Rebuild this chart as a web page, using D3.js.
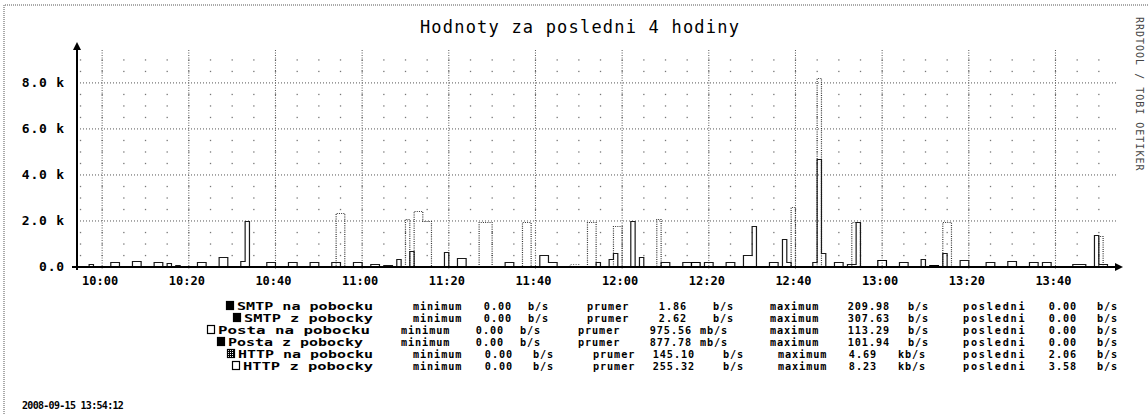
<!DOCTYPE html>
<html>
<head>
<meta charset="utf-8">
<script src="https://cdn.jsdelivr.net/npm/d3@7"></script>
<style>
  body { margin: 0; background: #fff; }
  svg { display: block; }
  text { font-family: "DejaVu Sans Mono", monospace; fill: #000; }
</style>
</head>
<body>
<div id="chart"></div>
<script>
/**
 * DATA
 * */
const title = "Hodnoty za posledni 4 hodiny";
const timeStart = "2008-09-15 09:54:12";
const timeEnd = "2008-09-15 13:54:12";
const stamp = "2008-09-15 13:54:12";
const watermark = "RRDTOOL / TOBI OETIKER";

const xTickTimes = ["10:00", "10:20", "10:40", "11:00", "11:20", "11:40",
  "12:00", "12:20", "12:40", "13:00", "13:20", "13:40"];
const yTickValues = [0, 2000, 4000, 6000, 8000];
const yTickLabels = ["0.0", "2.0 k", "4.0 k", "6.0 k", "8.0 k"];

// traffic pulses: [start HH:MM, minutes, b/s], zero elsewhere
const smtpNa = [["12:16", 2, 209.98]];
const smtpZ = [["12:59", 2, 307.63]];
const postaNa = [["11:48", 2, 113.29]];
const postaZ = [["13:11", 2, 101.94]];
const httpNa = [
  ["09:57", 1, 150], ["10:02", 2, 230], ["10:07", 2, 250], ["10:12", 2, 220],
  ["10:15", 1, 180], ["10:17", 1, 100], ["10:22", 2, 230], ["10:27", 2, 450],
  ["10:32", 1, 260], ["10:33", 1, 2000], ["10:38", 2, 220], ["10:43", 2, 220],
  ["10:48", 2, 220], ["10:53", 2, 220], ["10:58", 2, 200], ["11:02", 2, 120],
  ["11:05", 2, 90], ["11:08", 1, 350], ["11:11", 1, 700], ["11:19", 1, 650],
  ["11:22", 2, 400], ["11:33", 2, 220], ["11:41", 2, 500], ["11:43", 2, 200],
  ["11:54", 1, 200], ["11:57", 1, 350], ["11:58", 1, 600], ["12:02", 1, 2000],
  ["12:04", 1, 450], ["12:09", 2, 220], ["12:14", 2, 220], ["12:19", 2, 220],
  ["12:24", 2, 220], ["12:28", 2, 500], ["12:30", 1, 1800], ["12:34", 2, 220],
  ["12:37", 1, 1200], ["12:38", 1, 200], ["12:44", 1, 220], ["12:45", 1, 4690],
  ["12:46", 1, 600], ["12:49", 2, 220], ["12:52", 2, 120], ["12:54", 1, 1950],
  ["13:04", 2, 200], ["13:09", 1, 350], ["13:14", 1, 600], ["13:18", 2, 300],
  ["13:24", 2, 200], ["13:29", 2, 250], ["13:34", 2, 200], ["13:37", 2, 200],
  ["13:44", 3, 150], ["13:49", 1, 1400], ["13:50", 2, 150]
];
const httpZ = [
  ["10:54", 2, 2350], ["11:10", 1, 2100], ["11:12", 2, 2450], ["11:14", 2, 2000],
  ["11:27", 3, 1950], ["11:37", 2, 1950], ["11:52", 2, 1950], ["11:58", 2, 1800],
  ["12:08", 1, 2100], ["12:39", 1, 2600], ["12:45", 1, 8230], ["12:53", 2, 1950],
  ["13:14", 2, 1950], ["13:50", 1, 1350]
];

const seriesNames = ["SMTP na pobocku", "SMTP z pobocky", "Posta na pobocku",
  "Posta z pobocky", "HTTP na pobocku", "HTTP z pobocky"];
const seriesPulses = [smtpNa, smtpZ, postaNa, postaZ, httpNa, httpZ];
const minVals = ["0.00", "0.00", "0.00", "0.00", "0.00", "0.00"];
const avgVals = ["1.86", "2.62", "975.56", "877.78", "145.10", "255.32"];
const avgUnits = ["b/s", "b/s", "mb/s", "mb/s", "b/s", "b/s"];
const maxVals = ["209.98", "307.63", "113.29", "101.94", "4.69", "8.23"];
const maxUnits = ["b/s", "b/s", "b/s", "b/s", "kb/s", "kb/s"];
const lastVals = ["0.00", "0.00", "0.00", "0.00", "2.06", "3.58"];

/**
 * CONSTANTS
 * */
const width = 1148, height = 415;
const plot = { left: 77, right: 1117, top: 50, bottom: 267 };
// line look per series (scan is black & white)
const looks = [
  { stroke: "#000", dash: null, swatch: "black" },
  { stroke: "#000", dash: null, swatch: "black" },
  { stroke: "#666", dash: "1,1.5", swatch: "hollow" },
  { stroke: "#000", dash: null, swatch: "black" },
  { stroke: "#1a1a1a", dash: null, swatch: "hatch" },
  { stroke: "#333", dash: "1,1.2", swatch: "hollow" }
];

const parseT = d3.timeParse("%Y-%m-%d %H:%M:%S");
const t0 = parseT(timeStart), t1 = parseT(timeEnd);
const atClock = hm => parseT(`2008-09-15 ${hm}:00`);

const svg = d3.select("#chart").append("svg")
  .attr("width", width).attr("height", height);

const xScale = d3.scaleTime().domain([t0, t1]).range([plot.left, plot.right]);
const yScale = d3.scaleLinear().domain([0, 9430]).range([plot.bottom, plot.top]);

// border of the scanned print
svg.append("line").attr("x1", 5).attr("x2", width).attr("y1", 5).attr("y2", 5)
  .attr("stroke", "#555").attr("stroke-dasharray", "1,1");
svg.append("line").attr("x1", 4).attr("x2", 4).attr("y1", 5).attr("y2", height)
  .attr("stroke", "#555").attr("stroke-dasharray", "1,1");

// TITLE
svg.append("text")
  .attr("x", 580).attr("y", 33)
  .attr("text-anchor", "middle")
  .attr("font-size", 17).attr("letter-spacing", 1.2)
  .text(title);

// watermark on the right
svg.append("text")
  .attr("transform", "translate(1136,17) rotate(90)")
  .attr("font-size", 10).attr("letter-spacing", 1)
  .style("fill", "#444")
  .text(watermark);

// MINOR GRID: every 5 min and 500 b/s, drawn as lattice dots
const minorTimes = d3.timeMinute.every(5).range(t0, t1);
const minorVals = d3.range(500, 9430, 500).filter(v => v % 2000 !== 0);
const gMinor = svg.append("g").attr("class", "minor-grid");
minorTimes.forEach(t => {
  minorVals.forEach(v => {
    gMinor.append("rect")
      .attr("x", xScale(t) - 0.6).attr("y", yScale(v) - 0.6)
      .attr("width", 1.3).attr("height", 1.3).attr("fill", "#777");
  });
});

// MAJOR GRID
const majorTimes = xTickTimes.map(atClock);
svg.append("g").selectAll("line").data(majorTimes).join("line")
  .attr("x1", d => xScale(d)).attr("x2", d => xScale(d))
  .attr("y1", plot.top).attr("y2", plot.bottom + 3)
  .attr("stroke", "#555").attr("stroke-dasharray", "1,1.5");
svg.append("g").selectAll("line").data(yTickValues.slice(1)).join("line")
  .attr("x1", plot.left).attr("x2", plot.right)
  .attr("y1", d => yScale(d)).attr("y2", d => yScale(d))
  .attr("stroke", "#555").attr("stroke-dasharray", "1,2");

// AXIS LABELS
svg.append("g").selectAll("text").data(yTickValues).join("text")
  .attr("x", 65).attr("y", d => yScale(d) + 4)
  .attr("text-anchor", "end")
  .attr("font-size", 13).attr("font-weight", "bold").attr("letter-spacing", 0.8)
  .text((d, i) => yTickLabels[i]);
svg.append("g").selectAll("text").data(majorTimes).join("text")
  .attr("x", d => xScale(d) - 2).attr("y", 285)
  .attr("text-anchor", "middle")
  .attr("font-size", 12).attr("font-weight", "bold")
  .text((d, i) => xTickTimes[i]);

// SERIES
function toSteps(pulses) {
  const vals = new Map();
  pulses.forEach(([hm, len, v]) => {
    const s = atClock(hm);
    for (let k = 0; k < len; k++) vals.set(+d3.timeMinute.offset(s, k), v);
  });
  const minutes = d3.timeMinute.range(d3.timeMinute.floor(t0), t1);
  const pts = minutes.map(m => ({ t: m, v: vals.get(+m) || 0 }));
  pts.push({ t: t1, v: 0 });
  return pts;
}

svg.append("clipPath").attr("id", "plot-clip").append("rect")
  .attr("x", plot.left).attr("y", 0)
  .attr("width", plot.right - plot.left).attr("height", plot.bottom + 2);

const line = d3.line()
  .x(d => xScale(d.t))
  .y(d => Math.round(yScale(d.v)) + 0.5)
  .curve(d3.curveStepAfter);

const drawOrder = [5, 2, 4, 0, 1, 3];
svg.append("g").attr("clip-path", "url(#plot-clip)")
  .selectAll("path").data(drawOrder).join("path")
  .attr("d", i => line(toSteps(seriesPulses[i])))
  .attr("fill", "none")
  .attr("stroke", i => looks[i].stroke)
  .attr("stroke-width", 1.2)
  .attr("stroke-dasharray", i => looks[i].dash);

// AXES with arrows
svg.append("line")
  .attr("x1", 72).attr("x2", 1117).attr("y1", plot.bottom).attr("y2", plot.bottom)
  .attr("stroke", "#000").attr("stroke-width", 2);
svg.append("path").attr("d", "M1115,263L1123,267L1115,271Z").attr("fill", "#000");
svg.append("line")
  .attr("x1", plot.left).attr("x2", plot.left).attr("y1", plot.bottom + 3).attr("y2", 48)
  .attr("stroke", "#000").attr("stroke-width", 2);
svg.append("path").attr("d", "M73,50L77,42L81,50Z").attr("fill", "#000");

// LEGEND
const defs = svg.append("defs");
const pat = defs.append("pattern").attr("id", "hatch")
  .attr("width", 2).attr("height", 2).attr("patternUnits", "userSpaceOnUse");
pat.append("rect").attr("width", 2).attr("height", 2).attr("fill", "#000");
pat.append("rect").attr("width", 1).attr("height", 1).attr("fill", "#fff");

const rowY = [310, 322, 334, 346, 358, 370];
const swatchX = [226, 233, 207, 217, 227, 232];
const labelEnd = [373, 373, 370, 363, 373, 373];
// column stops per row group (rows 1-2, 3-4, 5-6)
const colA = { minW: 413, minEnd: 512, minU: 528, avgW: 587, avgEnd: 687, avgU: 713,
  maxW: 770, maxEnd: 890, maxU: 908, lastW: 963, lastEnd: 1077, lastU: 1097 };
const colB = { ...colA, minW: 401, minEnd: 504, minU: 520, avgW: 578, avgEnd: 692, avgU: 700 };
const colC = { ...colA, minEnd: 513, minU: 533, avgW: 593, avgEnd: 695, avgU: 723,
  maxW: 778, maxEnd: 877, maxU: 898 };
const rowCols = [colA, colA, colB, colB, colC, colC];

const legend = svg.append("g")
  .attr("font-size", 10.2).attr("font-weight", "bold").attr("letter-spacing", 0.9);
seriesNames.forEach((name, i) => {
  const c = rowCols[i], y = rowY[i];
  const put = (x, txt, anchor) => legend.append("text")
    .attr("x", x).attr("y", y).attr("text-anchor", anchor || "start").text(txt);
  // label spans from just right of its swatch to its right edge
  legend.append("text")
    .attr("x", swatchX[i] + 11).attr("y", y)
    .attr("letter-spacing", 0)
    .attr("textLength", labelEnd[i] - swatchX[i] - 11)
    .attr("lengthAdjust", "spacingAndGlyphs")
    .text(name);
  const sw = looks[i].swatch;
  legend.append("rect")
    .attr("x", swatchX[i] + 0.5).attr("y", y - 8.5)
    .attr("width", 7).attr("height", 8)
    .attr("fill", sw === "black" ? "#000" : sw === "hatch" ? "url(#hatch)" : "#fff")
    .attr("stroke", "#000").attr("stroke-width", 1.2);
  put(c.minW, "minimum");
  put(c.minEnd, minVals[i], "end");
  put(c.minU, "b/s");
  put(c.avgW, "prumer");
  put(c.avgEnd, avgVals[i], "end");
  put(c.avgU, avgUnits[i]);
  put(c.maxW, "maximum");
  put(c.maxEnd, maxVals[i], "end");
  put(c.maxU, maxUnits[i]);
  put(c.lastW, "posledni").attr("letter-spacing", 1.8);
  put(c.lastEnd, lastVals[i], "end");
  put(c.lastU, "b/s");
});

// timestamp
svg.append("text")
  .attr("x", 22).attr("y", 409)
  .attr("font-size", 10).attr("font-weight", "bold").attr("letter-spacing", -0.7)
  .text(stamp);
</script>
</body>
</html>
